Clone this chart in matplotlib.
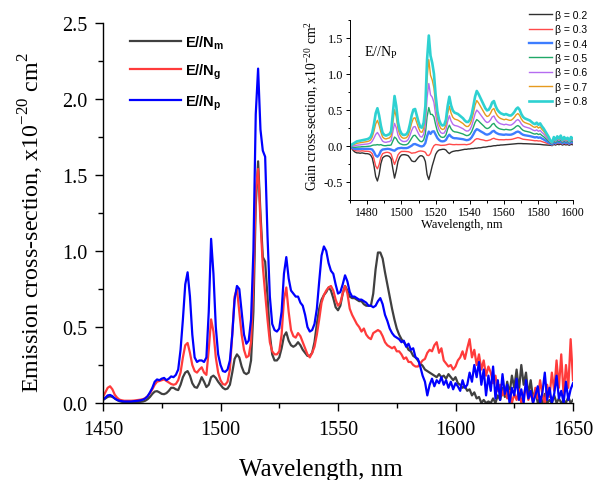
import numpy as np
import matplotlib
matplotlib.use("Agg")
import matplotlib.pyplot as plt
from matplotlib.ticker import MultipleLocator, FormatStrFormatter

# ---------------- data ----------------
# Emission cross-section spectra, 1 nm step, 1450-1650 nm (x1e-20 cm^2)
wl_start, wl_stop = 1450, 1650

em_Nm = [
    0.02, 0.03, 0.04, 0.044, 0.04, 0.03, 0.02, 0.012, 0.008, 0.006,
    0.005, 0.005, 0.005, 0.005, 0.006, 0.007, 0.008, 0.01, 0.015, 0.025,
    0.04, 0.06, 0.075, 0.078, 0.07, 0.06, 0.058, 0.065, 0.08, 0.1,
    0.1, 0.09, 0.085, 0.12, 0.17, 0.2, 0.21, 0.18, 0.13, 0.105,
    0.1, 0.13, 0.17, 0.14, 0.105, 0.12, 0.17, 0.18, 0.165, 0.14,
    0.12, 0.1, 0.09, 0.095, 0.12, 0.2, 0.29, 0.32, 0.3, 0.24,
    0.2, 0.19, 0.2, 0.28, 0.6, 1.3, 1.59, 1.25, 0.96, 0.93,
    0.7, 0.45, 0.32, 0.28, 0.28, 0.3, 0.36, 0.44, 0.465, 0.41,
    0.38, 0.37, 0.38, 0.4, 0.38, 0.35, 0.33, 0.31, 0.31, 0.33,
    0.4, 0.52, 0.62, 0.68, 0.71, 0.73, 0.76, 0.74, 0.69, 0.63,
    0.61, 0.64, 0.72, 0.77, 0.74, 0.7, 0.69, 0.69, 0.68, 0.67,
    0.67, 0.65, 0.64, 0.64, 0.64, 0.72, 0.88, 0.99, 0.99, 0.95,
    0.86, 0.78, 0.7, 0.62, 0.55, 0.49, 0.45, 0.42, 0.4, 0.38,
    0.35, 0.34, 0.31, 0.3, 0.28, 0.26, 0.245, 0.22, 0.21, 0.2,
    0.19, 0.18, 0.17, 0.19, 0.17, 0.18, 0.16, 0.19, 0.17, 0.15,
    0.17, 0.13, 0.12, 0.1, 0.11, 0.08, 0.09, 0.05, 0.07, 0.03,
    0.04, 0.0, 0.02, 0.0, 0.01, 0.0, 0.03, 0.0, 0.05, 0.02,
    0.1, 0.04, 0.14, 0.06, 0.18, 0.1, 0.22, 0.08, 0.25, 0.12,
    0.2, 0.05, 0.15, 0.03, 0.08, 0.0, 0.04, 0.0, 0.06, 0.0,
    0.02, 0.0, 0.05, 0.0, 0.03, 0.0, 0.02, 0.0, 0.04, 0.0,
    0.02,
]

em_Ng = [
    0.04, 0.07, 0.1, 0.11, 0.09, 0.055, 0.035, 0.022, 0.018, 0.015,
    0.015, 0.015, 0.015, 0.016, 0.018, 0.02, 0.022, 0.025, 0.032, 0.045,
    0.065, 0.09, 0.12, 0.14, 0.145, 0.15, 0.155, 0.145, 0.135, 0.125,
    0.12, 0.125, 0.15, 0.2, 0.3, 0.38, 0.395, 0.33, 0.25, 0.21,
    0.2, 0.22, 0.235, 0.2, 0.185, 0.35, 0.55, 0.47, 0.3, 0.2,
    0.15, 0.125, 0.12, 0.14, 0.22, 0.45, 0.7, 0.75, 0.6, 0.45,
    0.35, 0.3, 0.31, 0.4, 0.8, 1.4, 1.54, 1.2, 0.9, 0.72,
    0.55, 0.4, 0.34, 0.32, 0.32, 0.34, 0.45, 0.68, 0.76, 0.6,
    0.48, 0.44, 0.43, 0.46, 0.44, 0.4, 0.36, 0.32, 0.3, 0.33,
    0.37, 0.45, 0.55, 0.66, 0.71, 0.74, 0.76, 0.77, 0.74, 0.68,
    0.64, 0.66, 0.72, 0.77, 0.72, 0.62, 0.58, 0.55, 0.52, 0.5,
    0.47, 0.49, 0.45, 0.43, 0.42, 0.46, 0.47, 0.48, 0.47, 0.44,
    0.4, 0.38, 0.37, 0.36, 0.37, 0.34, 0.34, 0.32, 0.29, 0.3,
    0.27, 0.27, 0.25, 0.24, 0.24, 0.26, 0.28, 0.29, 0.33, 0.35,
    0.34, 0.38, 0.4, 0.33, 0.36, 0.28, 0.26, 0.24, 0.25, 0.22,
    0.24, 0.28, 0.3, 0.34, 0.29, 0.36, 0.42, 0.3, 0.35, 0.25,
    0.32, 0.22, 0.28, 0.18, 0.24, 0.2, 0.13, 0.18, 0.08, 0.12,
    0.05, 0.1, 0.03, 0.08, 0.0, 0.06, 0.02, 0.09, 0.0, 0.05,
    0.12, 0.02, 0.07, 0.0, 0.1, 0.03, 0.15, 0.05, 0.0, 0.12,
    0.04, 0.2, 0.08, 0.28, 0.1, 0.32, 0.05, 0.25, 0.1, 0.42,
    0.15,
]

em_Np = [
    0.02, 0.035, 0.05, 0.053, 0.045, 0.03, 0.02, 0.015, 0.012, 0.01,
    0.01, 0.01, 0.01, 0.012, 0.013, 0.015, 0.018, 0.022, 0.03, 0.045,
    0.07, 0.1, 0.14, 0.155, 0.15, 0.16, 0.165, 0.15, 0.16, 0.175,
    0.17, 0.185, 0.22, 0.35, 0.55, 0.78, 0.86, 0.7, 0.45, 0.3,
    0.27, 0.28, 0.28, 0.27, 0.3, 0.6, 1.08, 0.85, 0.5, 0.32,
    0.25, 0.21, 0.205, 0.22, 0.28, 0.45, 0.68, 0.77, 0.75, 0.6,
    0.45, 0.39, 0.41, 0.55, 1.0, 1.9, 2.2, 1.8, 1.66, 1.62,
    1.1, 0.7, 0.52, 0.48, 0.47, 0.49, 0.6, 0.85, 0.96, 0.82,
    0.74, 0.72, 0.7, 0.7, 0.66, 0.64, 0.58, 0.5, 0.47, 0.48,
    0.52, 0.62, 0.8, 0.97, 1.03, 1.0, 0.92, 0.87, 0.85, 0.78,
    0.72, 0.73, 0.78, 0.84, 0.8, 0.73, 0.7, 0.7, 0.69, 0.68,
    0.68, 0.67, 0.66, 0.64, 0.64, 0.63, 0.64, 0.67, 0.69, 0.65,
    0.58, 0.54, 0.49, 0.46, 0.44, 0.43, 0.42, 0.4, 0.41, 0.37,
    0.39, 0.35, 0.36, 0.3, 0.29, 0.24, 0.18, 0.14, 0.05, 0.12,
    0.16, 0.11, 0.15, 0.13, 0.17, 0.12, 0.15, 0.1, 0.14, 0.09,
    0.13, 0.11, 0.08, 0.15, 0.1, 0.12, 0.2, 0.14, 0.25, 0.17,
    0.27, 0.12, 0.22, 0.05, 0.18, 0.08, 0.24, 0.03, 0.15, 0.02,
    0.19, 0.06, 0.12, 0.0, 0.1, 0.05, 0.16, 0.02, 0.09, 0.0,
    0.15, 0.03, 0.08, 0.0, 0.05, 0.11, 0.0, 0.07, 0.2, 0.02,
    0.1, 0.0, 0.06, 0.18, 0.03, 0.08, 0.0, 0.14, 0.02, 0.09,
    0.13,
]

main_labels = ["E//N$_{\\mathregular{m}}$", "E//N$_{\\mathregular{g}}$",
               "E//N$_{\\mathregular{p}}$"]
main_colors = ["#404040", "#ff3b3b", "#0000ff"]

# Gain spectra for E//Np: sigma_g = beta*sigma_em - (1-beta)*sigma_abs, 1470-1600 nm
gain_start, gain_stop = 1470, 1600

gain_em = [
    0.003, 0.033, 0.063, 0.09, 0.113, 0.12, 0.128, 0.133, 0.142, 0.15,
    0.157, 0.172, 0.203, 0.297, 0.493, 0.743, 0.857, 0.693, 0.457, 0.297,
    0.25, 0.233, 0.247, 0.263, 0.327, 0.707, 1.07, 0.85, 0.513, 0.347,
    0.27, 0.242, 0.242, 0.257, 0.313, 0.457, 0.63, 0.74, 0.753, 0.623,
    0.493, 0.393, 0.38, 0.48, 0.807, 1.733, 2.197, 1.793, 1.627, 1.4,
    0.973, 0.667, 0.5, 0.418, 0.39, 0.403, 0.5, 0.763, 0.943, 0.777,
    0.68, 0.638, 0.623, 0.61, 0.582, 0.553, 0.525, 0.483, 0.457, 0.455,
    0.495, 0.587, 0.747, 0.918, 1.025, 0.97, 0.903, 0.835, 0.767, 0.7,
    0.658, 0.67, 0.723, 0.802, 0.827, 0.733, 0.665, 0.625, 0.597, 0.583,
    0.569, 0.582, 0.568, 0.554, 0.553, 0.579, 0.618, 0.671, 0.697, 0.657,
    0.577, 0.524, 0.497, 0.484, 0.471, 0.458, 0.432, 0.405, 0.393, 0.42,
    0.38, 0.407, 0.355, 0.316, 0.263, 0.211, 0.158, 0.091, 0.066, 0.154,
    0.104, 0.166, 0.129, 0.179, 0.104, 0.154, 0.116, 0.141, 0.091, 0.154,
    0.129,
]

gain_abs = [
    0.013, 0.058, 0.103, 0.135, 0.153, 0.155, 0.163, 0.158, 0.167, 0.175,
    0.177, 0.187, 0.213, 0.287, 0.473, 0.723, 0.827, 0.673, 0.427, 0.287,
    0.25, 0.233, 0.237, 0.253, 0.307, 0.577, 0.83, 0.65, 0.403, 0.287,
    0.23, 0.217, 0.217, 0.227, 0.253, 0.327, 0.42, 0.46, 0.463, 0.393,
    0.323, 0.273, 0.27, 0.32, 0.477, 0.933, 1.137, 0.923, 0.757, 0.6,
    0.393, 0.267, 0.2, 0.173, 0.16, 0.163, 0.2, 0.303, 0.373, 0.307,
    0.27, 0.253, 0.243, 0.24, 0.227, 0.213, 0.2, 0.183, 0.177, 0.17,
    0.18, 0.197, 0.237, 0.273, 0.3, 0.28, 0.263, 0.24, 0.217, 0.2,
    0.183, 0.18, 0.193, 0.207, 0.207, 0.183, 0.16, 0.15, 0.137, 0.133,
    0.127, 0.127, 0.123, 0.116, 0.113, 0.117, 0.123, 0.133, 0.137, 0.127,
    0.107, 0.096, 0.089, 0.087, 0.085, 0.083, 0.077, 0.071, 0.071, 0.08,
    0.07, 0.079, 0.07, 0.064, 0.053, 0.043, 0.033, 0.015, 0.015, 0.015,
    0.015, 0.015, 0.015, 0.015, 0.015, 0.015, 0.015, 0.015, 0.015, 0.015,
    0.015,
]

betas = [0.2, 0.3, 0.4, 0.5, 0.6, 0.7, 0.8]
beta_colors = ["#303030", "#ff4a4a", "#3d7dff", "#20a867", "#b56cf0", "#e69a1e", "#2ed1d1"]
beta_widths = [1.0, 1.0, 1.7, 1.0, 1.0, 1.0, 1.9]

# ---------------- figure ----------------
W, H = 595, 481
fig = plt.figure(figsize=(W / 100, H / 100), dpi=100)
serif = "Liberation Serif"
sans = "Liberation Sans"

ax = fig.add_axes([103 / W, 77 / H, 470 / W, 380 / H])
wl = np.arange(wl_start, wl_stop + 1)
for ys, lab, col in zip([em_Nm, em_Ng, em_Np], main_labels, main_colors):
    ax.plot(wl, ys, color=col, lw=1.6, label=lab)

ax.set_xlim(1450, 1650)
ax.set_ylim(0, 2.5)
ax.xaxis.set_major_locator(MultipleLocator(50))
ax.xaxis.set_minor_locator(MultipleLocator(25))
ax.yaxis.set_major_locator(MultipleLocator(0.5))
ax.yaxis.set_minor_locator(MultipleLocator(0.25))
ax.yaxis.set_major_formatter(FormatStrFormatter("%.1f"))
for s in ("top", "right"):
    ax.spines[s].set_visible(False)
for s in ("left", "bottom"):
    ax.spines[s].set_linewidth(1.0)
ax.tick_params(which="major", direction="out", length=6, width=1.0,
               labelsize=14.5, pad=5)
ax.tick_params(which="minor", direction="out", length=3.5, width=1.0)
ax.tick_params(axis="x", which="major", pad=6)
for t in ax.get_xticklabels() + ax.get_yticklabels():
    t.set_fontfamily(serif)
ax.set_xlabel("Wavelength, nm", fontsize=18, fontfamily=serif)
ax.xaxis.set_label_coords(218 / 470, -66 / 380)
ax.xaxis.label.set_va("center")
ax.set_ylabel("Emission cross-section, x10$^{\\mathregular{-20}}$ cm$^{\\mathregular{2}}$",
              fontsize=17.3, fontfamily=serif)
ax.yaxis.set_label_coords(-72 / 470, 181 / 380)
ax.yaxis.label.set_va("center")

ax.legend(loc="upper left", bbox_to_anchor=(130 / W, (H - 34) / H),
          bbox_transform=fig.transFigure, frameon=False,
          prop={"family": sans, "weight": "bold", "size": 10.5},
          handlelength=3.5, handletextpad=0.25, labelspacing=0.75,
          borderpad=0, borderaxespad=0)

# ---------------- inset: gain cross-section ----------------
ins = fig.add_axes([350 / W, (H - 200.7) / H, 222.7 / W, 180 / H])
gwl = np.arange(gain_start, gain_stop + 1)
g_em = np.array(gain_em)
g_abs = np.array(gain_abs)
for b, col, lw in zip(betas, beta_colors, beta_widths):
    ins.plot(gwl, b * g_em - (1 - b) * g_abs, color=col, lw=lw,
             label="\u03b2 = %.1f" % b)

ins.set_xlim(1470, 1600)
ins.set_ylim(-0.75, 1.75)
ins.xaxis.set_major_locator(MultipleLocator(20))
ins.xaxis.set_minor_locator(MultipleLocator(10))
ins.yaxis.set_major_locator(MultipleLocator(0.5))
ins.yaxis.set_minor_locator(MultipleLocator(0.25))
ins.yaxis.set_major_formatter(FormatStrFormatter("%.1f"))
ins.patch.set_alpha(0)
for s in ("top", "right"):
    ins.spines[s].set_visible(False)
for s in ("left", "bottom"):
    ins.spines[s].set_linewidth(0.7)
ins.tick_params(which="major", direction="out", length=3, width=0.7,
                labelsize=8.8, pad=2)
ins.tick_params(which="minor", direction="out", length=1.8, width=0.7)
ins.tick_params(axis="x", which="major", labelsize=8.5, pad=1.5)
for t in ins.get_xticklabels() + ins.get_yticklabels():
    t.set_fontfamily(serif)
ins.set_xlabel("Wavelength, nm", fontsize=9, fontfamily=serif, labelpad=0)
ins.set_ylabel("Gain cross-section, x10$^{\\mathregular{-20}}$ cm$^{\\mathregular{2}}$",
               fontsize=9.8, fontfamily=serif)
ins.yaxis.set_label_coords(-38 / 222.7, 94.7 / 180)
ins.yaxis.label.set_va("center")
ins.text(1478, 1.3, "E//N$_{\\mathregular{P}}$", fontsize=10, fontfamily=serif,
         ha="left", va="center")

ins.legend(loc="upper left", bbox_to_anchor=(529 / W, (H - 11) / H),
           bbox_transform=fig.transFigure, frameon=False,
           prop={"family": sans, "size": 7.5},
           handlelength=2.2, handletextpad=0.3, labelspacing=0.42,
           borderpad=0, borderaxespad=0)

fig.savefig("out.png", dpi=100)
